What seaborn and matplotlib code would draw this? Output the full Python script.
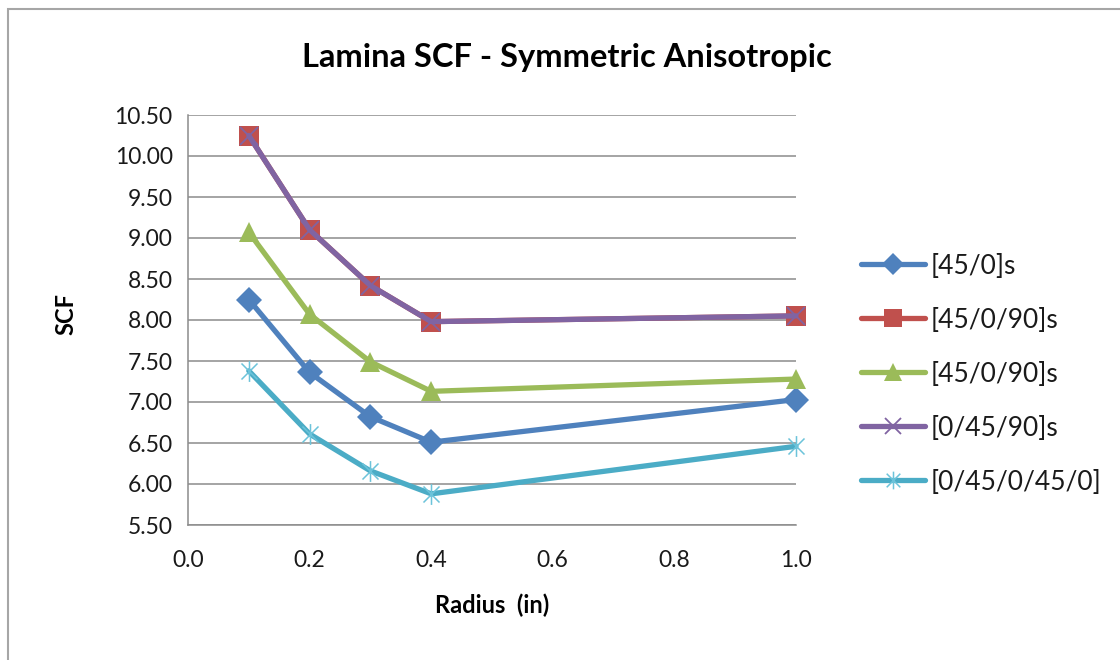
import numpy as np
import pandas as pd
import seaborn as sns
import matplotlib.pyplot as plt
from matplotlib.path import Path
from matplotlib.lines import Line2D
from matplotlib.patches import Rectangle

# Radius of the hole (in) and stress concentration factor per layup
radius = [0.1, 0.2, 0.3, 0.4, 1.0]
scf_45_0 = [8.25, 7.36, 6.82, 6.51, 7.03]
scf_45_0_90 = [10.25, 9.10, 8.42, 7.98, 8.05]
scf_45_0_90_b = [9.07, 8.07, 7.49, 7.13, 7.28]
scf_0_45_90 = [10.25, 9.10, 8.42, 7.98, 8.05]
scf_0_45_0_45_0 = [7.38, 6.61, 6.16, 5.88, 6.46]

series_labels = ["[45/0]s", "[45/0/90]s", "[45/0/90]s", "[0/45/90]s", "[0/45/0/45/0]"]
series_values = [scf_45_0, scf_45_0_90, scf_45_0_90_b, scf_0_45_90, scf_0_45_0_45_0]

x_ticks = [0.0, 0.2, 0.4, 0.6, 0.8, 1.0]
y_ticks = [5.5, 6.0, 6.5, 7.0, 7.5, 8.0, 8.5, 9.0, 9.5, 10.0, 10.5]

# Star marker: an "x" with a vertical stroke through it
star = Path([(-1, -1), (1, 1), (-1, 1), (1, -1), (0, -1.3), (0, 1.3)],
            [Path.MOVETO, Path.LINETO, Path.MOVETO, Path.LINETO, Path.MOVETO, Path.LINETO])

styles = [
    dict(color="#4F81BD", marker="D", markersize=13, mec="#4F81BD", mew=0),
    dict(color="#C0504D", marker="s", markersize=15, mec="#C0504D", mew=0),
    dict(color="#9BBB59", marker="^", markersize=15, mec="#9BBB59", mew=0),
    dict(color="#8064A2", marker="x", markersize=13, mec="#8064A2", mew=1.3),
    dict(color="#4BACC6", marker=star, markersize=15, mec="#6cc3da", mew=1.1),
]

sns.set_theme(style="white")
plt.rcParams["font.family"] = ["Lato", "DejaVu Sans"]

fig = plt.figure(figsize=(11.2, 6.6), dpi=100)
ax = fig.add_axes([188 / 1120, 1 - 525 / 660, 608 / 1120, 410 / 660])

handles = []
for i, (label, vals, st) in enumerate(zip(series_labels, series_values, styles)):
    df = pd.DataFrame({"Radius": radius, "SCF": vals})
    sns.lineplot(data=df, x="Radius", y="SCF", ax=ax, color=st["color"], lw=3.8,
                 marker=st["marker"], markersize=st["markersize"],
                 markeredgecolor=st["mec"], markeredgewidth=st["mew"],
                 markerfacecolor=st["color"], zorder=3 + i, clip_on=False)
    handles.append(Line2D([], [], color=st["color"], lw=3.8, marker=st["marker"],
                          markersize=st["markersize"] * 0.85, markeredgecolor=st["mec"],
                          markeredgewidth=st["mew"], markerfacecolor=st["color"],
                          solid_capstyle="round", label=label))

ax.set_xlim(0.0, 1.0)
ax.set_ylim(5.5, 10.5)
ax.set_xticks(x_ticks)
ax.set_yticks(y_ticks)
ax.set_xticklabels([f"{v:.1f}" for v in x_ticks])
ax.set_yticklabels([f"{v:.2f}" for v in y_ticks])
ax.tick_params(axis="both", length=0, labelsize=16.5, colors="#1a1a1a")
ax.tick_params(axis="y", pad=11)
ax.tick_params(axis="x", pad=18)

ax.grid(axis="y", color="#8c8c8c", lw=1.1)
ax.grid(axis="x", visible=False)
for side in ["top", "right"]:
    ax.spines[side].set_visible(False)
for side in ["left", "bottom"]:
    ax.spines[side].set_color("#8c8c8c")
    ax.spines[side].set_linewidth(1.1)

ax.set_xlabel("Radius  (in)", fontsize=17, fontweight="bold", color="black", labelpad=16)
ax.set_ylabel("SCF", fontsize=17, fontweight="bold", color="black")
ax.yaxis.set_label_coords(-0.182, 0.515)

fig.text(567 / 1120, 1 - 57 / 660, "Lamina SCF - Symmetric Anisotropic",
         ha="center", va="center", fontsize=23.5, fontweight="bold", color="black")

leg = ax.legend(handles=handles, loc="upper left", bbox_to_anchor=(850 / 1120, 1 - 243 / 660),
                bbox_transform=fig.transFigure, frameon=False, fontsize=19,
                handlelength=2.45, handletextpad=0.22, labelspacing=1.1, borderaxespad=0)
for t in leg.get_texts():
    t.set_color("#1a1a1a")

# Chart frame
fig.patches.append(Rectangle((8 / 1120, -0.1), 1.2, 1 - 9 / 660 + 0.1,
                             transform=fig.transFigure, fill=False,
                             edgecolor="#a6a6a6", lw=1.5, zorder=0))

fig.savefig("out.png", dpi=100, facecolor="white")
